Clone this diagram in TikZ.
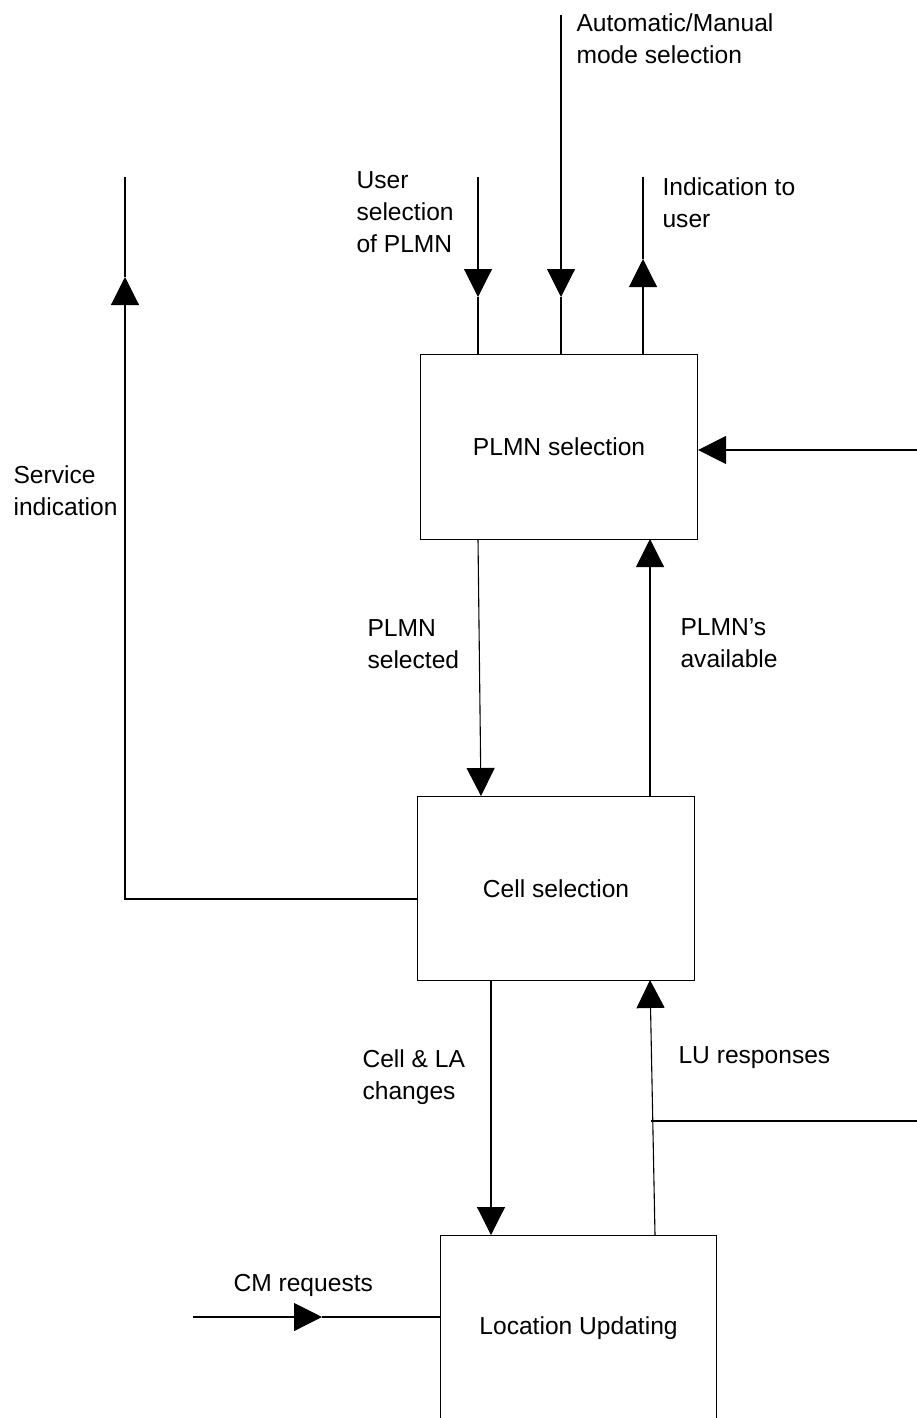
\documentclass[tikz,border=0pt]{standalone}
\usepackage{fontspec}
\setmainfont{Liberation Sans}
\usetikzlibrary{arrows.meta}
\begin{document}
\begin{tikzpicture}[x=1pt,y=-1pt,
  every path/.style={line width=1.1pt},
  tri/.style={-{Triangle[length=28pt,width=28pt]}},
  boxn/.style={draw,line width=1.1pt,inner sep=0pt,anchor=north west,font=\fontsize{24.6}{32}\selectfont},
  lbl/.style={anchor=north west,inner sep=0pt,align=left,font=\fontsize{24.6}{32}\selectfont}]
\useasboundingbox (0,0) rectangle (917,1418);
% boxes
\node[boxn,minimum width=277pt,minimum height=185pt] (plmn) at (420,354) {PLMN selection};
\node[boxn,minimum width=277pt,minimum height=184pt] (cell) at (417,796) {Cell selection};
\node[boxn,minimum width=276pt,minimum height=186pt] (lu) at (440,1235) {Location Updating};
% coordinates
\coordinate (usTop) at (478,177);
\coordinate (usTip) at (478,297);
\coordinate (amTop) at (561,15);
\coordinate (amTip) at (561,297);
\coordinate (inTop) at (643,177);
\coordinate (inTip) at (643,259);
\coordinate (svTop) at (125,177);
\coordinate (svTip) at (125,277);
\coordinate (svCorner) at (125,899);
\coordinate (rtIn) at (917,450);
\coordinate (luBr) at (651,1121);
\coordinate (luRt) at (917,1121);
\coordinate (cmL) at (193,1317);
\coordinate (cmTip) at (322,1317);
% connectors into/out of PLMN selection
\draw[tri] (usTop) -- (usTip);
\draw (usTip) -- (usTip |- plmn.north);
\draw[tri] (amTop) -- (amTip);
\draw (amTip) -- (amTip |- plmn.north);
\draw[tri] (inTop |- plmn.north) -- (inTip);
\draw (inTip) -- (inTop);
\draw[tri] (rtIn) -- (rtIn -| plmn.east);
% between PLMN and cell
\draw[tri] (478,539) -- (481,796);
\draw[tri] (650,796) -- (650,539);
% service indication
\draw[tri] (cell.west |- svCorner) -- (svCorner) -- (svTip);
\draw (svTip) -- (svTop);
% cell and LU
\draw[tri] (491,980) -- (491,1235);
\draw[tri] (655,1235) -- (650,980);
\draw (luBr) -- (luRt);
% CM requests
\draw[tri] (cmL) -- (cmTip);
\draw (cmTip) -- (cmTip -| lu.west);
% labels
\node[lbl] (tAM) at (576,13) {Automatic/Manual\\mode selection};
\node[lbl] (tUS) at (356,171) {User\\selection\\of PLMN};
\node[lbl] (tIN) at (662,177) {Indication to\\user};
\node[lbl] (tSV) at (13,465) {Service\\indication};
\node[lbl] (tPS) at (367,619) {PLMN\\selected};
\node[lbl] (tPA) at (680,618) {PLMN's\\available};
\node[lbl] (tCL) at (362,1049) {Cell \& LA\\changes};
\node[lbl] (tLU) at (678,1046) {LU responses};
\node[lbl] (tCM) at (233,1274) {CM requests};
\end{tikzpicture}
\end{document}
